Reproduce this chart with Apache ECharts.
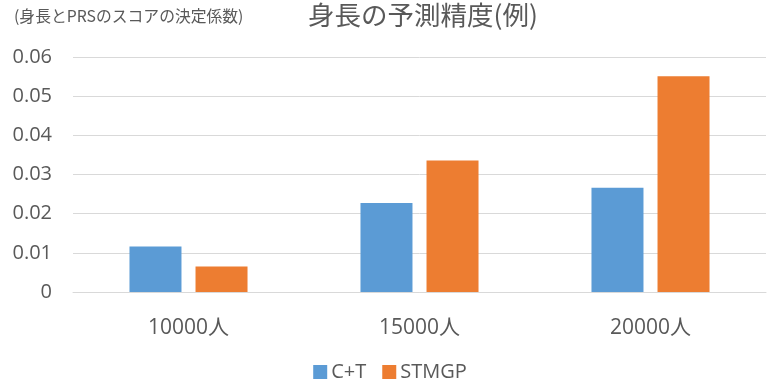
<!DOCTYPE html>
<html>
<head>
<meta charset="utf-8">
<script src="https://cdn.jsdelivr.net/npm/echarts@6/dist/echarts.min.js"></script>
<style>
html,body{margin:0;padding:0;background:#fff;}
#chart{width:780px;height:380px;}
</style>
</head>
<body>
<div id="chart"></div>
<script>
const categories = ['10000人', '15000人', '20000人'];
const seriesNames = ['C+T', 'STMGP'];
const ctValues = [0.0116, 0.0227, 0.0266];
const stmgpValues = [0.0065, 0.0336, 0.0551];
const yTicks = { min: 0, max: 0.06, interval: 0.01 };

const FONT = "'Open Sans','Noto Sans CJK JP',sans-serif";
const TXT = '#595959';

const chart = echarts.init(document.getElementById('chart'));
chart.setOption({
  animation: false,
  backgroundColor: '#fff',
  title: [
    {
      text: '(身長とPRSのスコアの決定係数)',
      left: 9, top: 3,
      textStyle: { fontFamily: "'Noto Sans CJK JP',sans-serif", fontSize: 15.8, fontWeight: 'normal', color: TXT }
    },
    {
      text: '身長の予測精度(例)',
      left: 303, top: -3,
      textStyle: { fontFamily: "'Noto Sans CJK JP',sans-serif", fontSize: 26.5, fontWeight: 'normal', color: TXT }
    }
  ],
  legend: {
    data: seriesNames,
    left: 'center', top: 357,
    itemWidth: 14, itemHeight: 14, itemGap: 16,
    icon: 'rect',
    textStyle: { fontFamily: FONT, fontSize: 20, color: TXT, padding: [0, 0, 0, -1] }
  },
  grid: { left: 73, right: 14, top: 57, bottom: 88, containLabel: false },
  xAxis: {
    type: 'category',
    data: categories,
    axisLine: { lineStyle: { color: '#D9D9D9', width: 1 } },
    axisTick: { show: false },
    axisLabel: { fontFamily: FONT, fontSize: 21, color: TXT, margin: 26 }
  },
  yAxis: {
    type: 'value',
    min: yTicks.min, max: yTicks.max, interval: yTicks.interval,
    axisLine: { show: false },
    axisTick: { show: false },
    splitLine: { lineStyle: { color: '#D9D9D9', width: 1 } },
    axisLabel: {
      fontFamily: FONT, fontSize: 20, color: TXT, margin: 21,
      formatter: v => v === 0 ? '0' : v.toFixed(2)
    }
  },
  series: [
    { name: seriesNames[0], type: 'bar', data: ctValues, barWidth: 52, barGap: '27%', itemStyle: { color: '#5B9BD5' } },
    { name: seriesNames[1], type: 'bar', data: stmgpValues, barWidth: 52, barGap: '27%', itemStyle: { color: '#ED7D31' } }
  ]
});
</script>
</body>
</html>
